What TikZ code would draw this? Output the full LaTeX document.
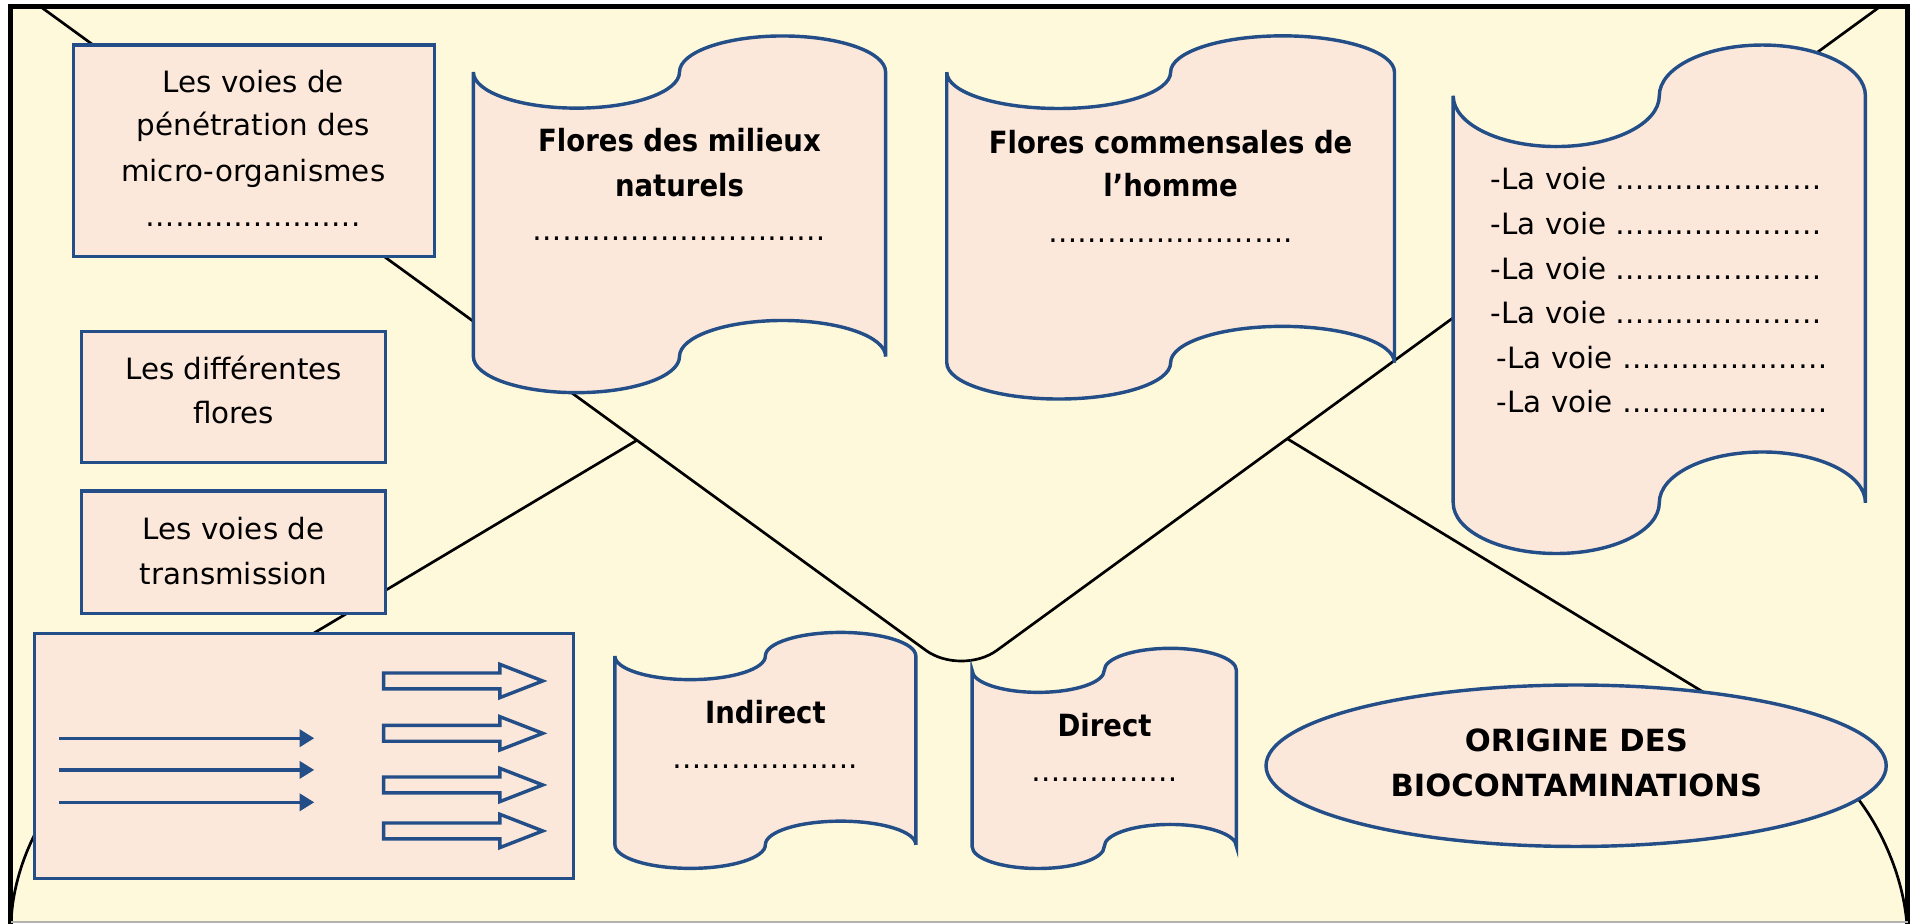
\documentclass[tikz,border=0pt]{standalone}
\usepackage{fontspec}
\setmainfont{DejaVu Sans}
\newfontfamily\bcond[FakeStretch=0.9]{DejaVu Sans}
\usetikzlibrary{shapes.geometric,arrows.meta}
\definecolor{bgyel}{RGB}{255,249,220}
\definecolor{peach}{RGB}{252,232,218}
\definecolor{dblue}{RGB}{35,78,135}
\newcommand{\pEll}{…}
\newcommand{\wavebox}[5]{%
  \pgfmathsetmacro{\wbrx}{(#2-#1)/8}%
  \pgfmathsetmacro{\wbry}{#5/2}%
  \draw[boxstyle] (#1,#3)
    arc[start angle=180,end angle=360,x radius=\wbrx pt,y radius=\wbry pt]
    arc[start angle=180,end angle=0,x radius=\wbrx pt,y radius=\wbry pt]
    -- (#2,#4)
    arc[start angle=0,end angle=180,x radius=\wbrx pt,y radius=\wbry pt]
    arc[start angle=0,end angle=-180,x radius=\wbrx pt,y radius=\wbry pt]
    -- cycle;}
\begin{document}
\begin{tikzpicture}[x=0.5pt,y=-0.5pt,
  boxstyle/.style={draw=dblue, line width=1.4pt, fill=peach},
  rectbox/.style={boxstyle, rectangle, inner sep=0pt},
  envline/.style={draw=black, line width=1.1pt},
  txt/.style={anchor=base, inner sep=0pt, font=\fontsize{12}{14}\selectfont},
  lst/.style={anchor=base west, inner sep=0pt, font=\fontsize{12}{14}\selectfont},
  ttl/.style={anchor=base, inner sep=0pt, font=\bcond\bfseries\fontsize{12.5}{15}\selectfont},
  ttlb/.style={anchor=base, inner sep=0pt, font=\bfseries\fontsize{12.5}{15}\selectfont},
  thinarr/.style={draw=dblue, line width=1.4pt, -{Triangle[length=6pt,width=7pt]}},
  blockarr/.style={boxstyle, line width=1.4pt, line join=miter}]
\useasboundingbox (0,0) rectangle (1568,754.6);
\fill[white] (0,0) rectangle (1568,754.6);
\fill[bgyel] (8.8,5) rectangle (1559.5,754.6);
% envelope lines
\coordinate (envTL) at (32.5,5);
\coordinate (envV) at (786,552.8);
\coordinate (envTR) at (1537.5,5);
\coordinate (envJL) at (520.7,359.9);
\coordinate (envPL) at (75,626);
\coordinate (envBL) at (9,757);
\coordinate (envJR) at (1052.6,358.8);
\coordinate (envPR) at (1490,625.2);
\coordinate (envBR) at (1559,757);
\draw[envline, rounded corners=18pt] (envTL) -- (envV) -- (envTR);
\draw[envline] (envJL) -- (envPL) .. controls (45,644) and (10,700) .. (envBL);
\draw[envline] (envJR) -- (envPR) .. controls (1520,643.5) and (1555,700) .. (envBR);
% rectangular boxes
\node[rectbox, minimum width=147.65pt, minimum height=86.5pt] (b1) at (207.65,123.3) {};
\node[rectbox, minimum width=124.3pt, minimum height=53.5pt] (b2) at (191,324.5) {};
\node[rectbox, minimum width=124.3pt, minimum height=50.05pt] (b3) at (191,451.35) {};
\node[rectbox, minimum width=220.15pt, minimum height=100.15pt] (big) at (248.55,617.85) {};
\node[txt] (t1a) at (207,75.5) {Les voies de};
\node[txt] (t1b) at (207,110.4) {pénétration des};
\node[txt] (t1c) at (207,148.5) {micro-organismes};
\node[txt] (t1d) at (207,185.3) {\pEll\pEll\pEll\pEll\pEll\pEll\pEll.};
\node[txt] (t2a) at (191,310.6) {Les différentes};
\node[txt] (t2b) at (191,346) {flores};
\node[txt] (t3a) at (191,441.4) {Les voies de};
\node[txt] (t3b) at (191,478.2) {transmission};
% arrows in the big box
\foreach \yy [count=\i] in {603.5,629.4,655.9}{
  \coordinate (ta\i s) at (48.4,\yy);
  \coordinate (ta\i e) at (256.9,\yy);
  \draw[thinarr] (ta\i s) -- (ta\i e);
}
\foreach \yy in {556.7,599.5,641.7,679.3}{
  \draw[blockarr] (313.6,\yy-6.5) -- (408.7,\yy-6.5) -- (408.7,\yy-13.6) -- (443.7,\yy)
     -- (408.7,\yy+13.6) -- (408.7,\yy+6.5) -- (313.6,\yy+6.5) -- cycle;
}
% scrolls
\wavebox{387}{724}{58.9}{291.5}{29.5}
\wavebox{774}{1140}{59}{296.5}{29.7}
\wavebox{1188}{1525}{78.3}{411}{41.5}
\wavebox{502.7}{748.7}{536.3}{690.6}{19.3}
\wavebox{794.7}{1010.8}{548}{692}{18}
\node[ttl] (sa1) at (555.5,124) {Flores des milieux};
\node[ttl] (sa2) at (555.5,160.8) {naturels};
\node[txt] (sa3) at (555.5,196.7) {\pEll\pEll\pEll\pEll\pEll\pEll\pEll\pEll\pEll\pEll};
\node[ttl] (sb1) at (957,125.4) {Flores commensales de};
\node[ttl] (sb2) at (957,160.8) {l’homme};
\node[txt] (sb3) at (957,198) {\pEll\pEll\pEll\pEll\pEll\pEll\pEll\pEll.};
\node[lst] (sc1) at (1218.3,155.3) {-La voie \pEll\pEll\pEll\pEll\pEll\pEll\pEll};
\node[lst] (sc2) at (1218.3,192.1) {-La voie \pEll\pEll\pEll\pEll\pEll\pEll\pEll};
\node[lst] (sc3) at (1218.3,228.4) {-La voie \pEll\pEll\pEll\pEll\pEll\pEll\pEll};
\node[lst] (sc4) at (1218.3,264.3) {-La voie \pEll\pEll\pEll\pEll\pEll\pEll\pEll};
\node[lst] (sc5) at (1223.3,301.1) {-La voie \pEll\pEll\pEll\pEll\pEll\pEll\pEll};
\node[lst] (sc6) at (1223.3,337.4) {-La voie \pEll\pEll\pEll\pEll\pEll\pEll\pEll};
\node[ttl] (sd1) at (625.7,591.3) {Indirect};
\node[txt] (sd2) at (625.7,628.1) {\pEll\pEll\pEll\pEll\pEll\pEll.};
\node[ttl] (se1) at (903,601.7) {Direct};
\node[txt] (se2) at (903,639) {\pEll\pEll\pEll\pEll\pEll};
% ellipse
\node[boxstyle, ellipse, minimum width=253.5pt, minimum height=66pt, inner sep=0pt] (orig) at (1288.5,626) {};
\node[ttlb] (o1) at (1288.7,614.5) {ORIGINE DES};
\node[ttlb] (o2) at (1288.7,650.8) {BIOCONTAMINATIONS};
% frame
\draw[black, line width=2pt] (8.8,760) -- (8.8,5) -- (1559.5,5) -- (1559.5,760);
\draw[gray!60, line width=0.8pt] (8.8,754) -- (1559.5,754);
\end{tikzpicture}
\end{document}
